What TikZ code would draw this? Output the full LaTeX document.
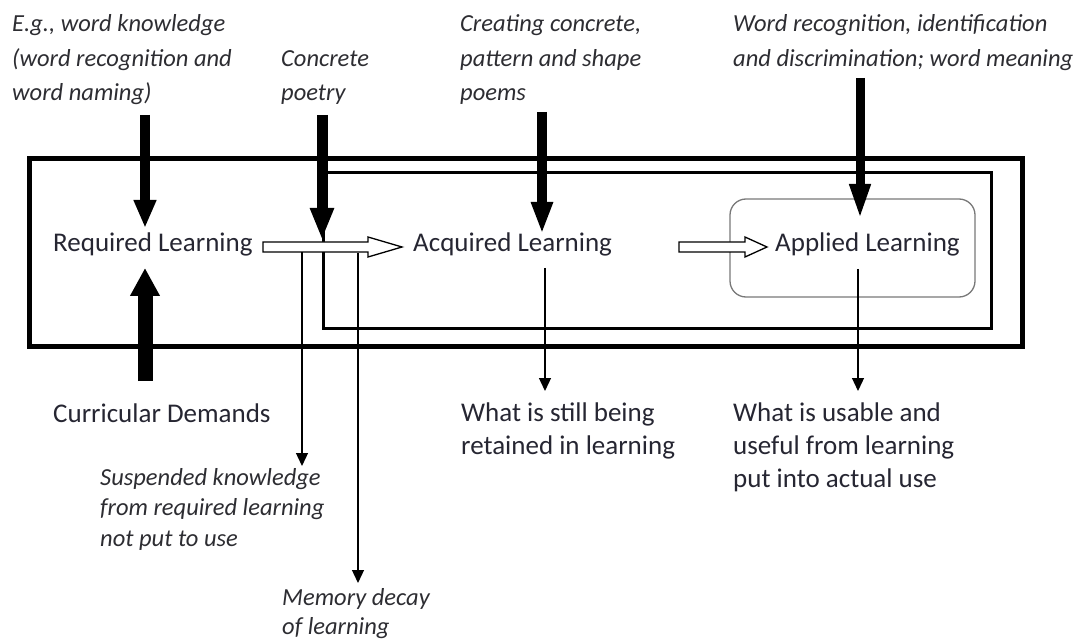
\documentclass[tikz,border=0pt]{standalone}
\usepackage{fontspec}
\setmainfont{Carlito}
\usetikzlibrary{arrows.meta}
\definecolor{txt}{RGB}{38,38,50}
\definecolor{itx}{RGB}{45,45,50}
\definecolor{rbox}{RGB}{120,120,120}
\newcommand\regsize{\fontsize{27}{33}\selectfont}
\newcommand\itsizeA{\fontsize{24.5}{34.5}\selectfont\itshape}
\newcommand\itsizeB{\fontsize{24.5}{30.5}\selectfont\itshape}
\newcommand\itsizeC{\fontsize{24.5}{29}\selectfont\itshape}
\begin{document}
\begin{tikzpicture}[x=1pt,y=-1pt,
  reg/.style={anchor=base west,inner sep=0pt,text=txt,font=\regsize,align=left},
  itA/.style={anchor=base west,inner sep=0pt,text=itx,font=\itsizeA,align=left},
  itB/.style={anchor=base west,inner sep=0pt,text=itx,font=\itsizeB,align=left},
  itC/.style={anchor=base west,inner sep=0pt,text=itx,font=\itsizeC,align=left},
  thinarr/.style={line width=1.3pt,-{Triangle[width=12pt,length=13pt]}},
  whitearr/.style={draw=black,fill=white,line width=1.3pt,line join=miter}]
\useasboundingbox (0,0) rectangle (1088,639);
% frames
\draw[line width=5pt] (29,159) rectangle (1022,347);
\draw[line width=3pt] (323,173) rectangle (991,329);
\draw[rbox,line width=1.3pt,rounded corners=16pt] (730,199) rectangle (975,297);
% main texts
\node[reg] (req) at (53,252) {Required Learning};
\node[reg] (acq) at (413,252) {Acquired Learning};
\node[reg] (app) at (775,252) {Applied Learning};
\node[reg] (cur) at (53,422) {Curricular Demands};
% top labels (anchored at the baseline of their last line)
\node[itA] (eg) at (12,101) {E.g., word knowledge\\(word recognition and\\word naming)};
\node[itA] (cp) at (281,101) {Concrete\\poetry};
\node[itA] (cc) at (460,101) {Creating concrete,\\pattern and shape\\poems};
\node[itA] (wr) at (733,66.5) {Word recognition, identification\\and discrimination; word meaning};
% bottom labels
\node[reg] (ret) at (461,454) {What is still being\\retained in learning};
\node[reg] (use) at (733,487) {What is usable and\\useful from learning\\put into actual use};
\node[itB] (sus) at (100,546) {Suspended knowledge\\from required learning\\not put to use};
\node[itC] (mem) at (282,634) {Memory decay\\of learning};
% coordinates
\coordinate (a1s) at (145,115); \coordinate (a1e) at (145,228);
\coordinate (a2s) at (322,115); \coordinate (a2e) at (322,240);
\coordinate (a3s) at (542,112); \coordinate (a3e) at (542,234);
\coordinate (a4s) at (860,78);  \coordinate (a4e) at (860,220);
\coordinate (ups) at (145,381); \coordinate (upe) at (145,268);
\coordinate (t1s) at (302,252); \coordinate (t1e) at (302,466);
\coordinate (t2s) at (358,253); \coordinate (t2e) at (358,583);
\coordinate (t3s) at (545,268); \coordinate (t3e) at (545,391);
\coordinate (t4s) at (858,269); \coordinate (t4e) at (858,391);
% thin arrows
\draw[thinarr] (t1s) -- (t1e);
\draw[thinarr] (t2s) -- (t2e);
\draw[thinarr] (t3s) -- (t3e);
\draw[thinarr] (t4s) -- (t4e);
% white block arrows
\coordinate (wat) at (263,247); \coordinate (wah) at (402,247);
\draw[whitearr] ([yshift=5]wat) -- (368,242) -- (368,237) -- (wah) -- (368,257) -- (368,252) -- ([yshift=-5]wat) -- cycle;
\coordinate (wbt) at (679,247); \coordinate (wbh) at (767,247);
\draw[whitearr] ([yshift=5]wbt) -- (745,242) -- (745,237) -- (wbh) -- (745,257) -- (745,252) -- ([yshift=-5]wbt) -- cycle;
% thick arrows
\draw[line width=10pt,-{Triangle[width=21pt,length=28pt]}] (a1s) -- (a1e);
\draw[line width=11pt,-{Triangle[width=22pt,length=32pt]}] (a2s) -- (a2e);
\draw[line width=10pt,-{Triangle[width=20pt,length=32pt]}] (a3s) -- (a3e);
\draw[line width=9pt,-{Triangle[width=19pt,length=36pt]}] (a4s) -- (a4e);
\draw[line width=15pt,-{Triangle[width=28pt,length=28pt]}] (ups) -- (upe);
\end{tikzpicture}
\end{document}
